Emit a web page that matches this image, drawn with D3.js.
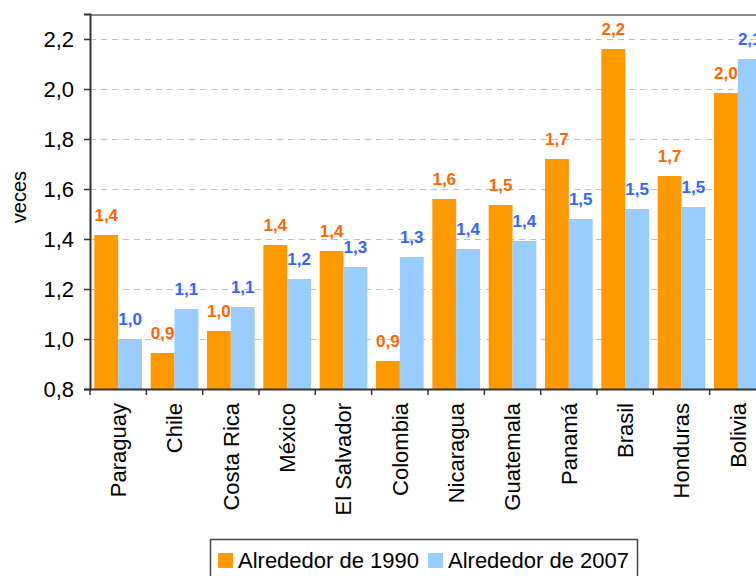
<!DOCTYPE html>
<html>
<head>
<meta charset="utf-8">
<script src="https://cdn.jsdelivr.net/npm/d3@7"></script>
<style>
  html, body { margin: 0; padding: 0; background: #fff; overflow: hidden; }
  svg { display: block; }
  svg text { font-family: "Liberation Sans", Arial, sans-serif; }
</style>
</head>
<body>
<div id="chart"></div>
<script>
const countries = ["Paraguay", "Chile", "Costa Rica", "México", "El Salvador", "Colombia",
  "Nicaragua", "Guatemala", "Panamá", "Brasil", "Honduras", "Bolivia"];
const around1990 = [1.416, 0.944, 1.032, 1.376, 1.352, 0.912, 1.56, 1.536, 1.72, 2.16, 1.652, 1.984];
const around2007 = [1.0, 1.12, 1.128, 1.24, 1.288, 1.328, 1.36, 1.392, 1.48, 1.52, 1.528, 2.12];
const seriesNames = ["Alrededor de 1990", "Alrededor de 2007"];
const yTicks = [0.8, 1.0, 1.2, 1.4, 1.6, 1.8, 2.0, 2.2];

const width = 756;
const height = 576;
const margin = { top: 14, left: 90, bottom: 187, right: -10 };
const iwidth = width - margin.left - margin.right;
const iheight = height - margin.top - margin.bottom;

const barColors = ["#FF9900", "#99CCFF"];
const labelColors = ["#FF6600", "#3366FF"];
const comma = v => d3.format(".1f")(v).replace(".", ",");

const rows = countries.map((c, i) => ({ country: c, values: [around1990[i], around2007[i]] }));

const svg = d3.select("#chart").append("svg")
  .attr("width", width)
  .attr("height", height);

const g = svg.append("g").attr("transform", `translate(${margin.left},${margin.top})`);

const y = d3.scaleLinear().domain([0.8, 2.3]).range([iheight, 0]);
const x = d3.scaleBand().domain(countries).range([0, iwidth]).padding(0);
const gap = x.bandwidth() * 0.077;
const x1 = d3.scaleBand().domain([0, 1]).range([gap, x.bandwidth() - gap]).padding(0);

// top border
g.append("line")
  .attr("x1", 0).attr("x2", iwidth)
  .attr("y1", 1).attr("y2", 1)
  .attr("stroke", "#8c8c8c").attr("stroke-width", 2);

// gridlines
g.append("g")
  .selectAll("line")
  .data(yTicks.slice(1))
  .join("line")
  .attr("x1", 0).attr("x2", iwidth)
  .attr("y1", d => Math.round(y(d)) + 0.5)
  .attr("y2", d => Math.round(y(d)) + 0.5)
  .attr("stroke", "#c0c0c0")
  .attr("stroke-dasharray", "6,5");

// bars
const groups = g.selectAll("g.country")
  .data(rows)
  .join("g")
  .attr("class", "country")
  .attr("transform", d => `translate(${x(d.country)},0)`);

groups.selectAll("rect")
  .data(d => d.values)
  .join("rect")
  .attr("x", (d, i) => x1(i))
  .attr("y", d => y(d))
  .attr("width", x1.bandwidth())
  .attr("height", d => iheight - y(d))
  .attr("fill", (d, i) => barColors[i]);

groups.selectAll("text")
  .data(d => d.values)
  .join("text")
  .attr("x", (d, i) => x1(i) + x1.bandwidth() / 2)
  .attr("y", d => y(d) - 14)
  .attr("text-anchor", "middle")
  .attr("font-size", 17)
  .attr("font-weight", "bold")
  .attr("fill", (d, i) => labelColors[i])
  .text(d => comma(d));

// y axis
const yAxis = g.append("g")
  .call(d3.axisLeft(y).tickValues(yTicks).tickSize(6).tickPadding(10).tickFormat(comma));
yAxis.attr("font-family", null);
yAxis.select(".domain").attr("stroke", "#333").attr("stroke-width", 2);
yAxis.selectAll(".tick line").attr("stroke", "#333").attr("stroke-width", 1.5);
yAxis.selectAll(".tick text").attr("font-size", 22).attr("fill", "#000");

// x axis
const xAxis = g.append("g")
  .attr("transform", `translate(0,${iheight})`)
  .call(d3.axisBottom(x).tickSize(6).tickSizeOuter(0));
xAxis.attr("font-family", null);
xAxis.select(".domain").attr("stroke", "#333").attr("stroke-width", 2);
xAxis.selectAll(".tick line")
  .attr("stroke", "#333").attr("stroke-width", 1.5)
  .attr("transform", `translate(${-x.bandwidth() / 2},0)`);
xAxis.selectAll(".tick text")
  .attr("font-size", 22)
  .attr("fill", "#000")
  .attr("text-anchor", "end")
  .attr("dy", "0.35em")
  .attr("transform", "translate(0,14) rotate(-90)")
  .attr("x", 0).attr("y", 0);

// y title
svg.append("text")
  .attr("transform", "translate(26,197) rotate(-90)")
  .attr("text-anchor", "middle")
  .attr("font-size", 20)
  .text("veces");

// legend
const legend = svg.append("g").attr("transform", "translate(210,539)");
legend.append("rect")
  .attr("x", 0.5).attr("y", 0.5)
  .attr("width", 427).attr("height", 50)
  .attr("fill", "#fff").attr("stroke", "#444").attr("stroke-width", 1.5);
const legendX = [8, 218];
seriesNames.forEach((name, i) => {
  legend.append("rect")
    .attr("x", legendX[i]).attr("y", 14)
    .attr("width", 15).attr("height", 15)
    .attr("fill", barColors[i]);
  legend.append("text")
    .attr("x", legendX[i] + 20).attr("y", 29)
    .attr("font-size", 22)
    .text(name);
});
</script>
</body>
</html>
